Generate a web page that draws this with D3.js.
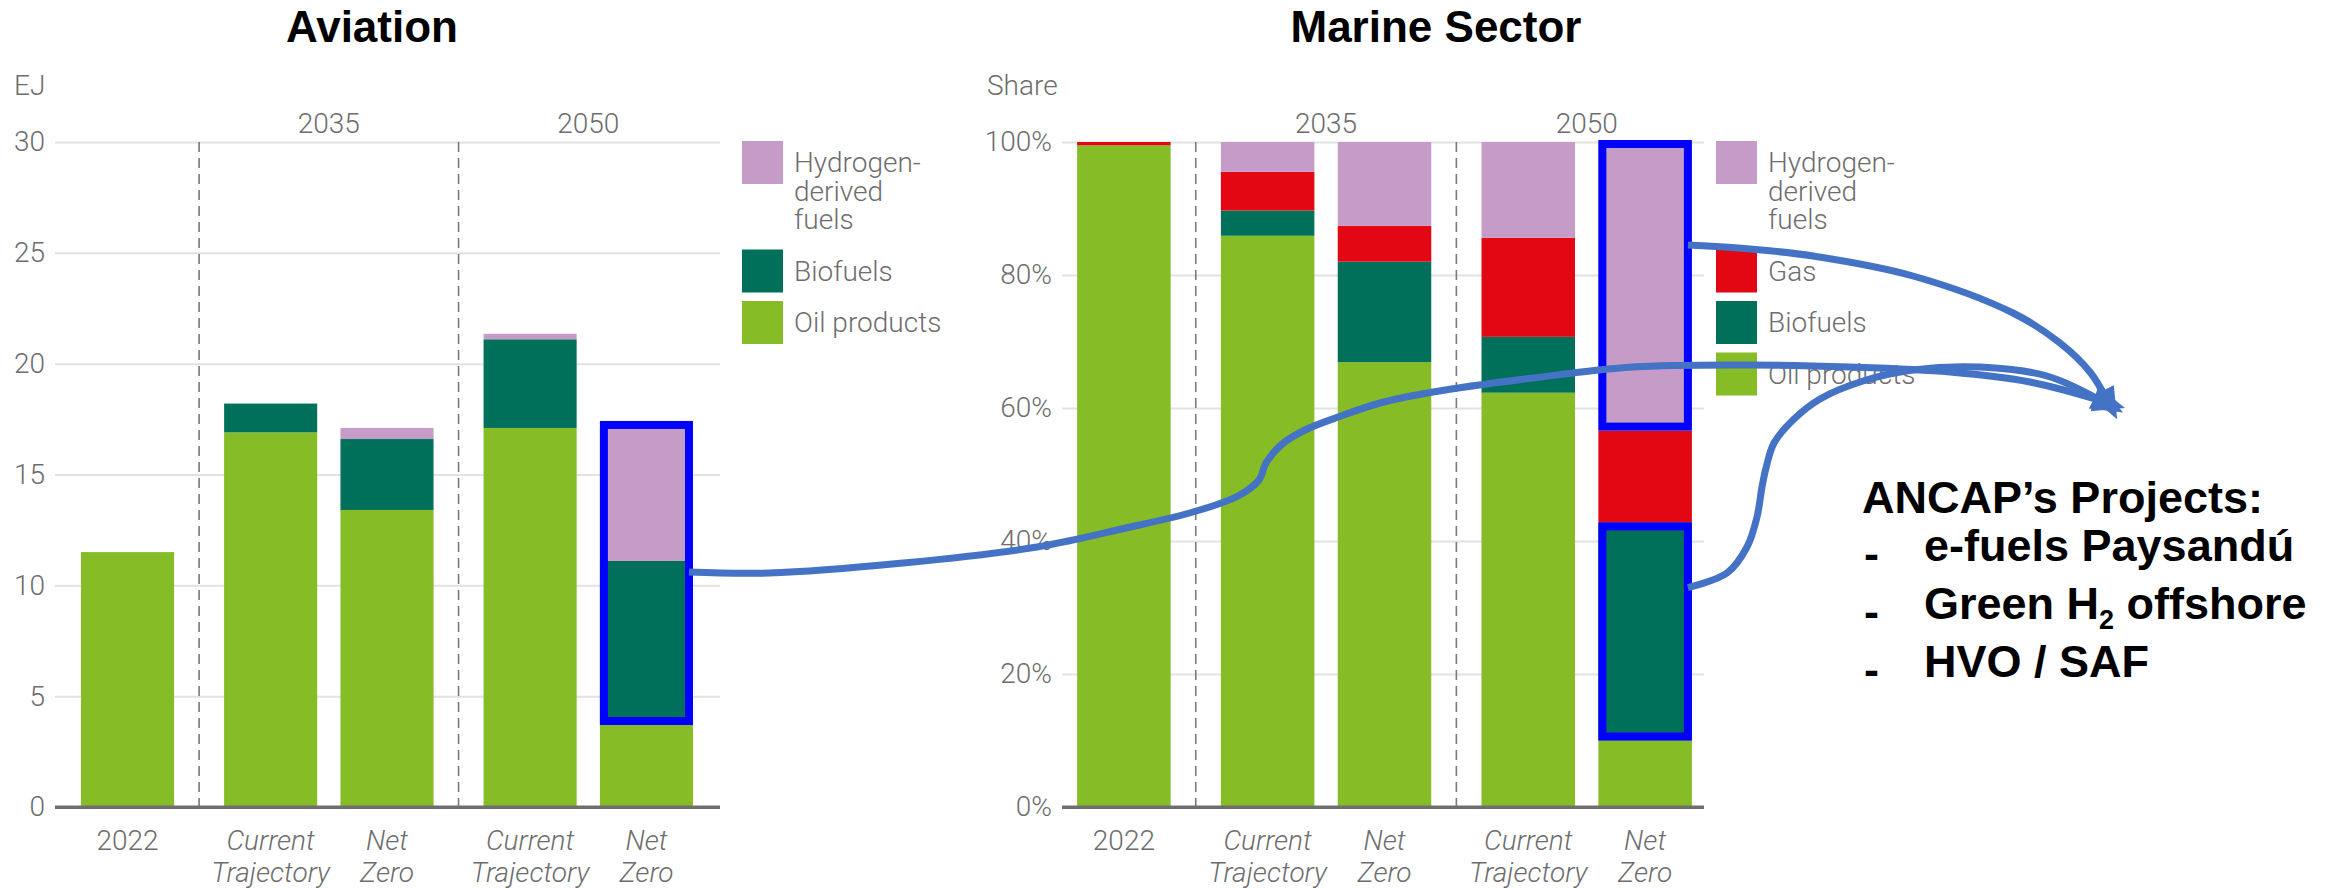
<!DOCTYPE html>
<html>
<head>
<meta charset="utf-8">
<script src="https://cdn.jsdelivr.net/npm/d3@7"></script>
<style>
  html, body { margin: 0; padding: 0; background: #ffffff; }
  svg { display: block; }
</style>
</head>
<body>
<svg id="chart" width="2338" height="888"></svg>
<script>
// ---- Data -------------------------------------------------------------
const groups = ["2022", "2035", "2050"];
const scenarios = {
  "2022": ["2022"],
  "2035": ["Current Trajectory", "Net Zero"],
  "2050": ["Current Trajectory", "Net Zero"]
};

// Aviation fuel demand, EJ (bars in order: 2022, CT 2035, NZ 2035, CT 2050, NZ 2050)
const aviationOil = [11.5, 16.9, 13.4, 17.1, 3.7];
const aviationBio = [0, 1.3, 3.2, 4.0, 7.4];
const aviationH2  = [0, 0, 0.5, 0.25, 6.0];
const aviationTicks = [0, 5, 10, 15, 20, 25, 30];

// Marine fuel mix, share of total (%)
const marineOil = [99.5, 85.9, 66.9, 62.3, 10.0];
const marineBio = [0, 3.8, 15.1, 8.4, 32.8];
const marineGas = [0.5, 5.8, 5.4, 14.9, 13.8];
const marineH2  = [0, 4.5, 12.6, 14.4, 43.4];
const marineTicks = [0, 20, 40, 60, 80, 100];

const seriesNames = {
  h2: ["Hydrogen-", "derived", "fuels"],
  gas: ["Gas"],
  bio: ["Biofuels"],
  oil: ["Oil products"]
};

const projectsTitle = "ANCAP\u2019s Projects:";
const projects = [
  [{ t: "e-fuels Paysand\u00fa" }],
  [{ t: "Green H" }, { t: "2", sub: true }, { t: " offshore" }],
  [{ t: "HVO / SAF" }]
];

// ---- Styling & layout ---------------------------------------------------
const colors = { oil: "#86BC25", bio: "#00705A", gas: "#E30613", h2: "#C59CC8" };
const FONT = "Roboto, 'Noto Sans', sans-serif";
const BOLD_FONT = "'Liberation Sans', Arial, sans-serif";
const GRAY = "#6d6d6d";
const PAD_INNER = 0.2, PAD_OUTER = 0.215;
const Y_RANGE = [807, 142];

const svg = d3.select("#chart");

const defs = svg.append("defs");
defs.append("marker")
  .attr("id", "arrowHead")
  .attr("viewBox", "0 -15 34 30")
  .attr("refX", 8)
  .attr("refY", 0)
  .attr("markerWidth", 34)
  .attr("markerHeight", 30)
  .attr("markerUnits", "userSpaceOnUse")
  .attr("orient", "auto")
  .append("path")
  .attr("d", "M0,-13L32,0L0,13Z")
  .attr("fill", "#4472C4");

function drawPanel(cfg) {
  const g = svg.append("g");

  // stacked rows
  const rows = cfg.series.oil.map((_, i) => {
    const r = {};
    cfg.keys.forEach(k => { r[k] = cfg.series[k][i]; });
    return r;
  });
  const stacked = d3.stack().keys(cfg.keys)(rows);

  const y = d3.scaleLinear().domain([0, cfg.max]).range(Y_RANGE);

  // horizontal layout: groups sized by their number of bars
  const units = groups.map(k => scenarios[k].length - PAD_INNER + 2 * PAD_OUTER);
  const cum = d3.cumsum(units);
  const xu = d3.scaleLinear().domain([0, cum[cum.length - 1]]).range(cfg.xRange);
  const bars = [];
  const groupSpans = [];
  groups.forEach((gk, i) => {
    const x0 = xu(i ? cum[i - 1] : 0), x1 = xu(cum[i]);
    groupSpans.push({ key: gk, x0, x1 });
    const band = d3.scaleBand().domain(scenarios[gk]).range([x0, x1])
      .paddingInner(PAD_INNER).paddingOuter(PAD_OUTER);
    scenarios[gk].forEach(s => bars.push({ group: gk, scenario: s, x: band(s), w: band.bandwidth() }));
  });

  // title
  g.append("text")
    .attr("x", cfg.titleX).attr("y", 42)
    .attr("text-anchor", "middle")
    .attr("font-family", BOLD_FONT).attr("font-weight", 700).attr("font-size", 44)
    .attr("fill", "#000").text(cfg.title);

  // unit label
  g.append("text")
    .attr("x", cfg.unitX).attr("y", 95)
    .attr("font-family", FONT).attr("font-weight", 300).attr("font-size", 28)
    .attr("fill", GRAY).text(cfg.unit);

  // y axis with gridlines
  const gridW = cfg.grid[1] - cfg.grid[0];
  const axis = g.append("g")
    .attr("transform", `translate(${cfg.grid[0]},0)`)
    .call(d3.axisLeft(y).tickValues(cfg.ticks).tickSize(-gridW).tickPadding(10)
      .tickFormat(cfg.fmt));
  axis.select(".domain").remove();
  axis.selectAll(".tick line")
    .attr("stroke", d => d === 0 ? "#6f6f6f" : "#e2e2e2")
    .attr("stroke-width", d => d === 0 ? 3 : 2);
  axis.selectAll(".tick text")
    .attr("font-family", FONT).attr("font-weight", 300).attr("font-size", 28)
    .attr("fill", GRAY);

  // group separators
  groupSpans.slice(0, -1).forEach(s => {
    g.append("line")
      .attr("x1", s.x1).attr("x2", s.x1)
      .attr("y1", Y_RANGE[1]).attr("y2", Y_RANGE[0])
      .attr("stroke", "#7a7a7a").attr("stroke-width", 1.6)
      .attr("stroke-dasharray", "10,6");
  });

  // year headers
  groupSpans.filter(s => scenarios[s.key].length > 1).forEach(s => {
    g.append("text")
      .attr("x", (s.x0 + s.x1) / 2).attr("y", 133)
      .attr("text-anchor", "middle")
      .attr("font-family", FONT).attr("font-weight", 300).attr("font-size", 28)
      .attr("fill", GRAY).text(s.key);
  });

  // bars
  const barLayer = g.append("g");
  stacked.forEach(layer => {
    barLayer.selectAll(null).data(layer).join("rect")
      .attr("x", (d, i) => bars[i].x)
      .attr("width", (d, i) => bars[i].w)
      .attr("y", d => y(d[1]))
      .attr("height", d => Math.max(0, y(d[0]) - y(d[1])))
      .attr("fill", colors[layer.key]);
  });

  // zero baseline drawn over the bars
  g.append("line")
    .attr("x1", cfg.grid[0]).attr("x2", cfg.grid[1])
    .attr("y1", y(0)).attr("y2", y(0))
    .attr("stroke", "#6f6f6f").attr("stroke-width", 3);

  // category labels
  bars.forEach(b => {
    const lines = b.scenario === "2022" ? ["2022"] : b.scenario.split(" ");
    const t = g.append("text")
      .attr("x", b.x + b.w / 2).attr("y", 850)
      .attr("text-anchor", "middle")
      .attr("font-family", FONT).attr("font-weight", 300).attr("font-size", 28)
      .attr("font-style", b.scenario === "2022" ? "normal" : "italic")
      .attr("fill", GRAY);
    lines.forEach((ln, i) => t.append("tspan").attr("x", b.x + b.w / 2).attr("dy", i ? 32 : 0).text(ln));
  });

  // legend
  let ly = 141;
  cfg.legend.forEach(k => {
    g.append("rect")
      .attr("x", cfg.legendX).attr("y", ly).attr("width", 41).attr("height", 43)
      .attr("fill", colors[k]);
    const t = g.append("text")
      .attr("x", cfg.legendX + 52).attr("y", ly + 31)
      .attr("font-family", FONT).attr("font-weight", 300).attr("font-size", 28)
      .attr("fill", GRAY);
    seriesNames[k].forEach((ln, i) => t.append("tspan").attr("x", cfg.legendX + 52).attr("dy", i ? 28.5 : 0).text(ln));
    ly += Math.max(43, seriesNames[k].length * 28.5 + 15) + 8;
  });

  // highlight boxes around selected segments
  const boxes = cfg.highlights.map(h => {
    const b = bars[h.bar];
    const lo = stacked.find(s => s.key === h.from)[h.bar][0];
    const hi = stacked.find(s => s.key === h.to)[h.bar][1];
    const top = y(hi) - h.lift, bottom = y(lo);
    g.append("rect")
      .attr("x", b.x + 4).attr("y", top + 4)
      .attr("width", b.w - 8).attr("height", bottom - top - 8)
      .attr("fill", "none").attr("stroke", "#0000FF").attr("stroke-width", 8);
    return { right: b.x + b.w - 4, y };
  });
  return boxes;
}

const aviationBoxes = drawPanel({
  title: "Aviation", titleX: 372,
  unit: "EJ", unitX: 14,
  keys: ["oil", "bio", "h2"],
  series: { oil: aviationOil, bio: aviationBio, h2: aviationH2 },
  max: 30, ticks: aviationTicks, fmt: d => d,
  xRange: [56, 718], grid: [55, 720],
  legendX: 742, legend: ["h2", "bio", "oil"],
  highlights: [{ bar: 4, from: "bio", to: "h2", lift: 7 }]
});

const marineBoxes = drawPanel({
  title: "Marine Sector", titleX: 1436,
  unit: "Share", unitX: 987,
  keys: ["oil", "bio", "gas", "h2"],
  series: { oil: marineOil, bio: marineBio, gas: marineGas, h2: marineH2 },
  max: 100, ticks: marineTicks, fmt: d => d + "%",
  xRange: [1052, 1717], grid: [1062, 1704],
  legendX: 1716, legend: ["h2", "gas", "bio", "oil"],
  highlights: [
    { bar: 4, from: "h2", to: "h2", lift: 2 },
    { bar: 4, from: "bio", to: "bio", lift: 0 }
  ]
});

// ---- Project list -----------------------------------------------------------
const notes = svg.append("g")
  .attr("font-family", BOLD_FONT).attr("font-weight", 700).attr("font-size", 45).attr("fill", "#000");
notes.append("text").attr("x", 1862).attr("y", 513).text(projectsTitle);
projects.forEach((parts, i) => {
  const yy = 571 + i * 58;
  notes.append("text").attr("x", 1864).attr("y", yy - 2).text("-");
  const t = notes.append("text").attr("x", 1924).attr("y", yy);
  parts.forEach(p => {
    if (p.sub) t.append("tspan").attr("font-size", 27).attr("dy", 10).text(p.t);
    else t.append("tspan").attr("dy", t.selectAll("tspan").size() ? -10 : 0).text(p.t);
  });
});

// ---- Connector arrows ------------------------------------------------------
const curve = d3.line().curve(d3.curveCatmullRom.alpha(0.5));
const arrows = [
  { from: [aviationBoxes[0], 10.6], pts: [
    [769, 573], [903, 563], [1037, 547], [1126, 528], [1193, 512], [1238, 496],
    [1259, 480], [1266, 463], [1281, 445], [1305, 430], [1341, 416], [1380, 403],
    [1433, 392], [1533, 378], [1633, 367], [1750, 365], [1850, 367], [1950, 372],
    [2030, 382], [2102, 401]] },
  { from: [marineBoxes[0], 84.5], pts: [
    [1750, 249], [1813, 256], [1913, 276], [2013, 313], [2060, 343], [2090, 372], [2106, 398]] },
  { from: [marineBoxes[1], 33], pts: [
    [1727, 573], [1747, 547], [1757, 517], [1762, 487], [1766, 468], [1774, 443],
    [1793, 420], [1820, 399], [1863, 381], [1913, 370], [1980, 367], [2047, 376], [2102, 401]] }
];
arrows.forEach(a => {
  const [box, v] = a.from;
  const start = [box.right, box.y(v)];
  svg.append("path")
    .attr("d", curve([start, ...a.pts]))
    .attr("fill", "none")
    .attr("stroke", "#4472C4")
    .attr("stroke-width", 7)
    .attr("stroke-linecap", "butt")
    .attr("marker-end", "url(#arrowHead)");
});
</script>
</body>
</html>
